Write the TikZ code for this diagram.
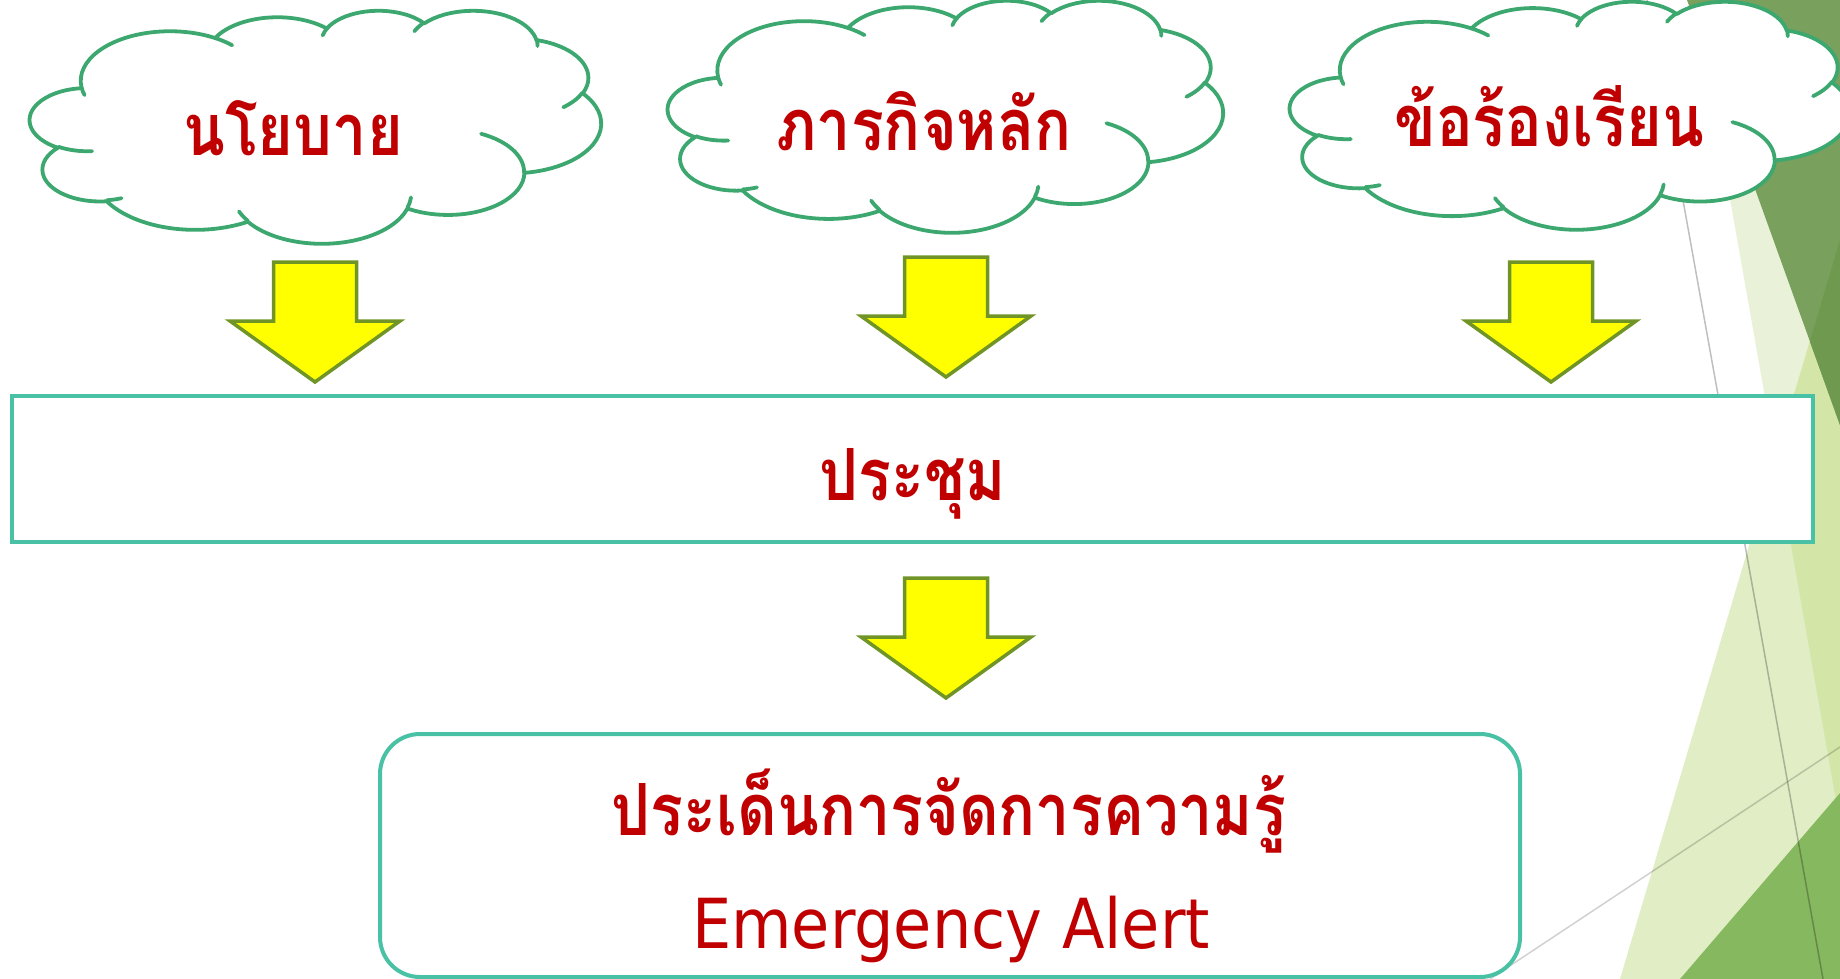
\documentclass[tikz,border=0pt]{standalone}
\usepackage{fontspec}
\newfontfamily\thaifont[Script=Thai, FakeStretch=0.85]{Loma}
\newfontfamily\latinfont[FakeStretch=0.9]{DejaVu Sans}
\definecolor{txtred}{RGB}{192,0,0}
\definecolor{cloudgreen}{RGB}{60,168,112}
\definecolor{boxteal}{RGB}{72,193,164}
\definecolor{arrowolive}{RGB}{112,148,38}
\definecolor{arrowyellow}{RGB}{255,255,0}
\definecolor{darkgreen}{RGB}{121,160,92}
\definecolor{darkergreen}{RGB}{111,153,78}
\definecolor{paleA}{RGB}{233,242,217}
\definecolor{paleB}{RGB}{224,237,197}
\definecolor{paleAB}{RGB}{211,229,167}
\definecolor{midgreen}{RGB}{134,184,96}
\tikzset{
  cloudline/.style={draw=cloudgreen, line width=3.8pt, fill=white, line join=round},
  cloudinner/.style={draw=cloudgreen, line width=3.8pt, line cap=round},
  yarrow/.style={draw=arrowolive, fill=arrowyellow, line width=3.5pt, line join=miter},
  tealbox/.style={draw=boxteal, line width=4pt, fill=white, inner sep=0pt},
  thaitxt/.style={text=txtred, font=\thaifont\bfseries\fontsize{72}{86}\selectfont, inner sep=0pt, anchor=base},
  lattxt/.style={text=txtred, font=\latinfont\fontsize{69}{80}\selectfont, inner sep=0pt, anchor=base},
  bgline/.style={draw=black, line width=1.5pt},
}
\newcommand{\oa}[4]{arc[start angle={vp(#3,#1,#2)}, end angle={vp(#3+#4,#1,#2)}, x radius=#1, y radius=#2]}
\newcommand{\drawcloud}[5]{%
  \pgfmathsetmacro\cwx{#4/4320}\pgfmathsetmacro\chy{#5/4320}%
  \begin{scope}[shift={(#2,#3)}, x=\cwx pt, y=-\chy pt]
    \path[cloudline] (390,1437)
      \oa{675.3}{919.0}{-190.4875}{123.7805}
      \oa{533.3}{726.7}{-144.1024}{89.9452}
      \oa{436.5}{594.5}{-145.8079}{99.7230}
      \oa{485.7}{659.5}{-130.9861}{117.2417}
      \oa{533.3}{727.3}{-78.7089}{109.0269}
      \oa{677.5}{922.0}{-46.2673}{130.2690}
      \oa{578.5}{786.7}{0.6250}{114.0333}
      \oa{675.2}{921.5}{22.4516}{115.1726}
      \oa{772.0}{1054.3}{66.2426}{75.7110}
      \oa{436.0}{591.8}{-274.9421}{146.7356}
      \oa{434.5}{594.5}{-246.8285}{152.5189}
      -- cycle;
    \draw[cloudinner]
      (469.3,2617.7) \oa{434.5}{594.5}{86.7420}{26.4295}
      (692.8,3489.9) \oa{436.0}{591.8}{73.6105}{11.4475}
      (1647.8,3909.0) \oa{675.2}{921.5}{137.6242}{14.0811}
      (2882.7,3475.1) \oa{675.2}{921.5}{6.4533}{15.9984}
      (3412.9,2295.4) \oa{578.5}{786.7}{-70.2924}{70.9174}
      (4179.8,1535.4) \oa{533.3}{727.3}{30.3180}{27.7515}
      (3832.4,542.6) \oa{485.7}{659.5}{-13.7443}{14.8589}
      (2907.8,395.2) \oa{485.7}{659.5}{-149.1815}{18.1954}
      (2214.1,472.0) \oa{436.5}{594.5}{-163.4943}{17.6864}
      (1400.0,519.2) \oa{675.3}{919.0}{-66.7070}{12.3194}
      (412.7,1578.9) \oa{675.3}{919.0}{157.6544}{11.8582};
    \coordinate (#1) at (2160,2160);
  \end{scope}}
\newcommand{\blockarrow}[3]{%
  \path[yarrow] (#2-41.5,#3) coordinate (#1) -- (#2+41.5,#3) -- (#2+41.5,#3+59) -- (#2+85,#3+59)
    -- (#2,#3+120) -- (#2-85,#3+59) -- (#2-41.5,#3+59) -- cycle;}
\begin{document}
\begin{tikzpicture}[x=1pt, y=-1pt,
  declare function={vp(\aa,\rx,\ry)=\aa+(atan2(\rx*sin(\aa),\ry*cos(\aa))-\aa)-360*round((atan2(\rx*sin(\aa),\ry*cos(\aa))-\aa)/360);}]
\useasboundingbox (0,0) rectangle (1840,979);
\fill[white] (0,0) rectangle (1840,979);
% background facets
\fill[paleA] (1695,0) -- (1840,0) -- (1840,823) -- cycle;
\fill[paleB] (1840,240) -- (1620,979) -- (1840,979) -- cycle;
\begin{scope}
  \clip (1695,0) -- (1840,0) -- (1840,823) -- cycle;
  \fill[paleAB] (1840,240) -- (1620,979) -- (1840,979) -- cycle;
\end{scope}
\fill[darkgreen] (1687,0) -- (1840,0) -- (1840,425) -- cycle;
\begin{scope}
  \clip (1687,0) -- (1840,0) -- (1840,425) -- cycle;
  \fill[darkergreen] (1840,240) -- (1620,979) -- (1840,979) -- cycle;
\end{scope}
\fill[midgreen] (1840,793) -- (1680,979) -- (1840,979) -- cycle;
\draw[bgline, draw opacity=0.25] (1647,0) -- (1823,979);
\draw[bgline, draw opacity=0.18] (1490,979) -- (1840,747);
% boxes
\node[tealbox, minimum width=1801pt, minimum height=146pt] (meet) at (912.5,469) {};
\node[tealbox, rounded corners=40pt, minimum width=1140pt, minimum height=243pt] (issue) at (950,855.5) {};
% arrows
\blockarrow{a1}{315}{262}
\blockarrow{a2}{946}{257}
\blockarrow{a3}{1551}{262}
\blockarrow{a4}{946}{578}
% clouds
\drawcloud{c1}{30}{10}{571}{233}
\drawcloud{c2}{668}{0}{555}{232}
\drawcloud{c3}{1290}{1}{560}{228}
% texts
\node[thaitxt] (t1) at (293,156) {นโยบาย};
\node[thaitxt] (t2) at (924,150) {ภารกิจหลัก};
\node[thaitxt] (t3) at (1549,147) {ข้อร้องเรียน};
\node[thaitxt] (t4) at (913,500) {ประชุม};
\node[thaitxt] (t5) at (949,835) {ประเด็นการจัดการความรู้};
\node[lattxt] (t6) at (951,948) {Emergency Alert};
\end{tikzpicture}
\end{document}
